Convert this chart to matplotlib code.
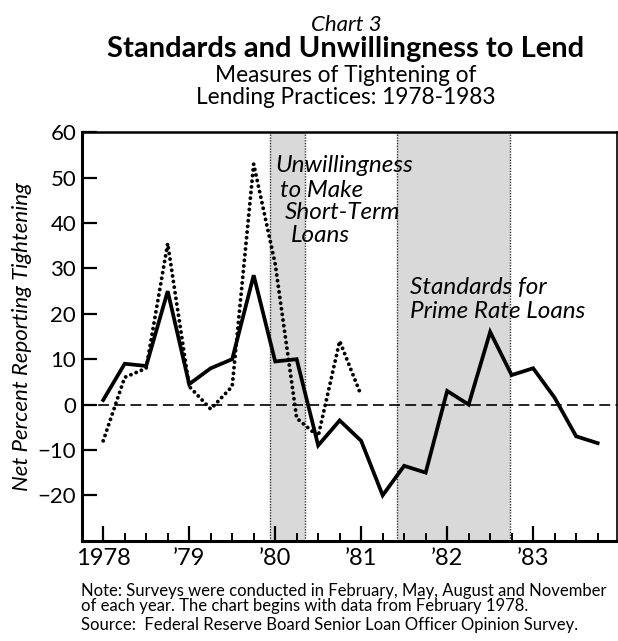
import numpy as np
import matplotlib.pyplot as plt

plt.rcParams['font.family'] = ['Lato', 'DejaVu Sans']

# quarterly survey results (Feb, May, Aug, Nov), starting February 1978
standards = [1, 9, 8.5, 25, 4.5, 8, 10, 28.5, 9.5, 10, -9, -3.5,
             -8, -20, -13.5, -15, 3, 0, 16, 6.5, 8, 1.5, -7, -8.5]
unwilling = [-8, 6, 8, 35.5, 4, -1, 4, 53, 31, -3, -7, 14, 2]

# shaded periods (recessions)
shade_start = [1979.94, 1981.42]
shade_end = [1980.35, 1982.73]

years = [1978, 1979, 1980, 1981, 1982, 1983]
year_labels = ['1978', '\u201979', '\u201980', '\u201981', '\u201982', '\u201983']
y_ticks = [-20, -10, 0, 10, 20, 30, 40, 50, 60]
y_labels = ['\u221220', '\u221210', '0', '10', '20', '30', '40', '50', '60']

x_std = 1978 + np.arange(len(standards)) / 4
x_unw = 1978 + np.arange(len(unwilling)) / 4

W, H = 618, 641
fig = plt.figure(figsize=(W / 100, H / 100), dpi=100)
ax = fig.add_axes([81.7 / W, 1 - 540.7 / H, (617 - 81.7) / W, (540.7 - 132.3) / H])
ax.set_xlim(1977.75, 1983.975)
ax.set_ylim(-30, 60)

# shaded bands with dotted edges
for s, e in zip(shade_start, shade_end):
    ax.axvspan(s, e, facecolor='#d9d9d9', edgecolor='none', zorder=0)
    for xe in (s, e):
        ax.axvline(xe, color='#333333', lw=1.0, ls=(0, (1, 1)), zorder=1)

ax.axhline(0, color='black', lw=1.2, ls=(0, (6.5, 3.2)), zorder=2)

ax.plot(x_std, standards, color='black', lw=2.7, solid_joinstyle='miter', zorder=4)
ax.plot(x_unw, unwilling, color='black', lw=2.8, ls=(0, (0.01, 1.45)),
        dash_capstyle='round', zorder=3)

# axes styling
ax.spines['left'].set_linewidth(2.2)
ax.spines['bottom'].set_linewidth(2.2)
ax.spines['top'].set_linewidth(1.8)
ax.spines['right'].set_linewidth(1.2)

ax.set_xticks(years)
ax.set_xticklabels(year_labels)
minor = [y + q for y in years for q in (0.25, 0.5, 0.75)]
ax.set_xticks(minor, minor=True)
ax.set_yticks(y_ticks)
ax.set_yticklabels(y_labels)

ax.tick_params(axis='x', which='major', direction='in', length=11, width=1.6,
               labelsize=17, pad=5)
ax.tick_params(axis='x', which='minor', direction='in', length=5.5, width=1.4)
ax.tick_params(axis='y', direction='in', length=11, width=1.6, labelsize=16, pad=4)

ax.set_ylabel('Net Percent Reporting Tightening', fontsize=16, style='italic',
              labelpad=4)


def px(x, y):
    return x / W, 1 - y / H


# titles
fig.text(*px(346, 25), 'Chart 3', ha='center', va='center', fontsize=16, style='italic')
fig.text(*px(346, 49), 'Standards and Unwillingness to Lend', ha='center', va='center',
         fontsize=21, fontweight='bold')
fig.text(*px(346, 75), 'Measures of Tightening of', ha='center', va='center', fontsize=16.3)
fig.text(*px(346, 98), 'Lending Practices: 1978-1983', ha='center', va='center', fontsize=16.3)

# series labels
for txt, x0, y0 in [('Unwillingness', 275, 166), ('to Make', 280, 190),
                    ('Short-Term', 285, 213), ('Loans', 291, 236)]:
    fig.text(*px(x0, y0), txt, ha='left', va='center', fontsize=17.5, style='italic')
fig.text(*px(410, 287), 'Standards for', ha='left', va='center', fontsize=17.5, style='italic')
fig.text(*px(410, 311), 'Prime Rate Loans', ha='left', va='center', fontsize=17.5, style='italic')

# notes
fig.text(*px(81, 591), 'Note: Surveys were conducted in February, May, August and November',
         ha='left', va='center', fontsize=12)
fig.text(*px(81, 606), 'of each year. The chart begins with data from February 1978.',
         ha='left', va='center', fontsize=12)
fig.text(*px(81, 625), 'Source:  Federal Reserve Board Senior Loan Officer Opinion Survey.',
         ha='left', va='center', fontsize=12)

fig.savefig('out.png', dpi=100)
